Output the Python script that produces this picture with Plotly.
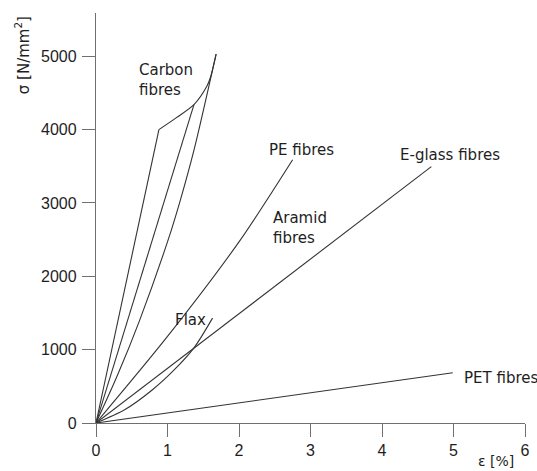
import plotly.graph_objects as go

# Strain ε [%] and stress σ [N/mm²] for each fibre type
carbon_a_eps = [0, 0.88]
carbon_a_sig = [0, 4000]
carbon_knee_eps = [0.88, 1.12, 1.37, 1.55, 1.60, 1.68]
carbon_knee_sig = [4000, 4160, 4340, 4590, 4710, 5030]
carbon_b_eps = [0, 1.37]
carbon_b_sig = [0, 4340]
carbon_c_eps = [0, 0.30, 0.61, 1.01, 1.18, 1.37, 1.68]
carbon_c_sig = [0, 650, 1400, 2500, 3040, 3720, 5030]
pe_eps = [0, 1.00, 2.00, 2.75]
pe_sig = [0, 1180, 2470, 3590]
eglass_eps = [0, 4.69]
eglass_sig = [0, 3495]
flax_eps = [0, 0.40, 0.79, 1.10, 1.37, 1.63]
flax_sig = [0, 180, 453, 730, 1024, 1430]
pet_eps = [0, 4.99]
pet_sig = [0, 686]

x_ticks = [0, 1, 2, 3, 4, 5, 6]
y_ticks = [0, 1000, 2000, 3000, 4000, 5000]

LINE = "#333333"
AXIS = "#707070"
TEXT = "#1e1e1e"
TICK_FONT = "Liberation Sans"
LABEL_FONT = "DejaVu Sans"

curves = [
    (carbon_a_eps, carbon_a_sig, "linear"),
    (carbon_knee_eps, carbon_knee_sig, "spline"),
    (carbon_b_eps, carbon_b_sig, "linear"),
    (carbon_c_eps, carbon_c_sig, "spline"),
    (pe_eps, pe_sig, "spline"),
    (eglass_eps, eglass_sig, "linear"),
    (flax_eps, flax_sig, "spline"),
    (pet_eps, pet_sig, "linear"),
]

fig = go.Figure()
for xs, ys, shape in curves:
    fig.add_trace(go.Scatter(
        x=xs, y=ys, mode="lines",
        line=dict(color=LINE, width=1.1, shape=shape, smoothing=0.8),
        hoverinfo="skip", showlegend=False,
    ))

# Curve labels, placed in data coordinates
labels = [
    ("Carbon<br>fibres", 0.58, 4680, "left"),
    ("PE fibres", 2.876, 3722, "center"),
    ("E-glass fibres", 4.95, 3654, "center"),
    ("Aramid<br>fibres", 2.447, 2660, "left"),
    ("Flax", 1.327, 1404, "center"),
    ("PET fibres", 5.125, 613, "left"),
]
for text, x, y, anchor in labels:
    fig.add_annotation(
        x=x, y=y, xref="x", yref="y", text=text, showarrow=False,
        xanchor=anchor, yanchor="middle", align="left",
        font=dict(family=LABEL_FONT, size=15, color=TEXT),
    )

# Axis titles
fig.add_annotation(
    x=0.932, y=-0.116, xref="paper", yref="paper", text="ε [%]",
    showarrow=False, xanchor="center", yanchor="bottom",
    font=dict(family=LABEL_FONT, size=14, color=TEXT),
)
fig.add_annotation(
    x=-0.172, y=0.8976, xref="paper", yref="paper",
    text="σ [N/mm<sup>2</sup>]", textangle=-90,
    showarrow=False, xanchor="center", yanchor="middle",
    font=dict(family=LABEL_FONT, size=15, color=TEXT),
)

fig.update_xaxes(
    range=[0, 6], tickvals=x_ticks, ticks="outside", ticklen=13,
    tickcolor=AXIS, tickwidth=1.3, showline=True, linecolor=AXIS,
    linewidth=1.3, showgrid=False, zeroline=False,
    tickfont=dict(family=TICK_FONT, size=16, color=TEXT),
)
fig.update_yaxes(
    range=[0, 5590], tickvals=y_ticks, ticks="outside", ticklen=13,
    tickcolor=AXIS, tickwidth=1.3, showline=True, linecolor=AXIS,
    linewidth=1.3, showgrid=False, zeroline=False, ticklabelstandoff=2,
    tickfont=dict(family=TICK_FONT, size=16, color=TEXT),
)
fig.update_layout(
    width=537, height=471,
    margin=dict(l=96, r=7, t=13, b=48),
    plot_bgcolor="white", paper_bgcolor="white",
)

fig.write_html("out.html")
